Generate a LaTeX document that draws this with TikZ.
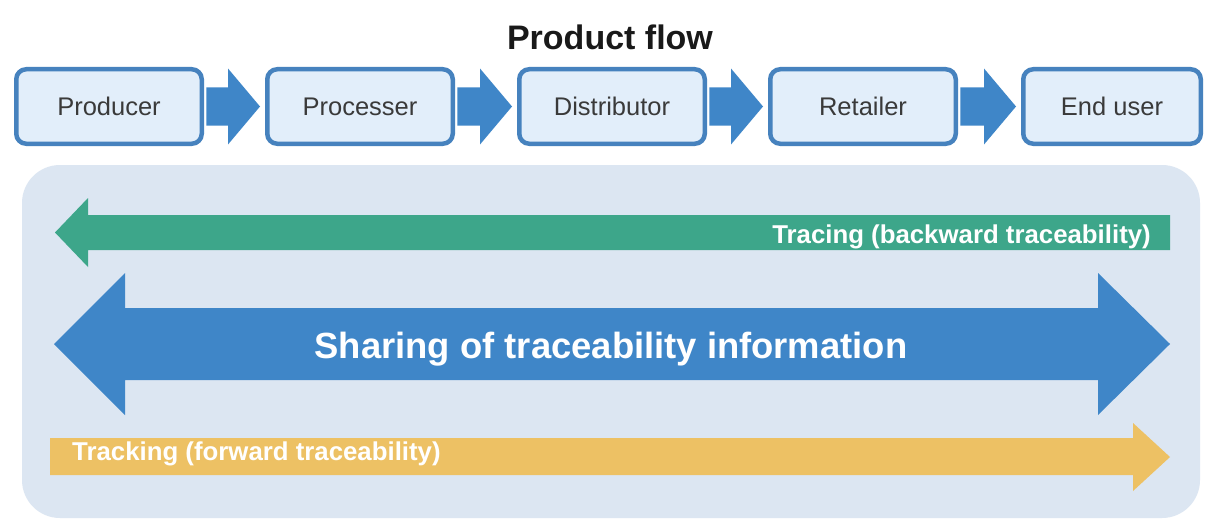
\documentclass[tikz,border=0pt]{standalone}
\usepackage{fontspec}
\setmainfont{Liberation Sans}
\usetikzlibrary{calc}
\definecolor{flowblue}{HTML}{3F86C8}
\definecolor{boxborder}{HTML}{4682BE}
\definecolor{boxfill}{HTML}{E2EEFA}
\definecolor{panelcol}{HTML}{DCE6F2}
\definecolor{greencol}{HTML}{3DA68A}
\definecolor{orangecol}{HTML}{EDC164}
\definecolor{labelgray}{HTML}{3A3A3A}
\begin{document}
\begin{tikzpicture}[x=1pt,y=-1pt,
  flowbox/.style={draw=boxborder, line width=4.5pt, fill=boxfill, rounded corners=10pt,
    minimum width=185.5pt, minimum height=74.5pt, inner sep=0pt,
    font=\fontsize{25.5}{25.5}\selectfont, text=labelgray},
  whitelabel/.style={text=white, inner sep=0pt, font=\fontsize{25.8}{25.8}\selectfont\bfseries}]
\useasboundingbox (0,0) rectangle (1206,524);
\fill[white] (0,0) rectangle (1206,524);
% title
\node[anchor=base, inner sep=0pt, font=\fontsize{34}{34}\selectfont\bfseries, text=black!90] (title) at (610,50) {Product flow};
% boxes
\coordinate (c1) at (109,106.5);
\coordinate (c2) at (360,106.5);
\coordinate (c3) at (612,106.5);
\coordinate (c4) at (863,106.5);
\coordinate (c5) at (1112,106.5);
\node[flowbox] (b1) at (c1) {Producer};
\node[flowbox] (b2) at (c2) {Processer};
\node[flowbox] (b3) at (c3) {Distributor};
\node[flowbox] (b4) at (c4) {Retailer};
\node[flowbox, minimum width=177.5pt] (b5) at (c5) {End user};
% connectors between boxes
\foreach \a/\b in {b1/b2,b2/b3,b3/b4,b4/b5}{
  \fill[flowblue] ($(\a.east)+(2.25,-19)$) -- ($(\b.west)+(-37,-19)$) -- ($(\b.west)+(-37,-38)$)
    -- ($(\b.west)+(-5,0)$) -- ($(\b.west)+(-37,38)$) -- ($(\b.west)+(-37,19)$)
    -- ($(\a.east)+(2.25,19)$) -- cycle;
}
% panel
\fill[panelcol, rounded corners=38pt] (22,165) rectangle (1200,518);
% tracing (green, leftward)
\fill[greencol] (1170,215) -- (88,215) -- (88,198) -- (55,232.5) -- (88,267) -- (88,250) -- (1170,250) -- cycle;
\node[whitelabel, anchor=base east] (tracing) at (1151,243) {Tracing (backward traceability)};
% sharing (blue, double)
\fill[flowblue] (125,308) -- (1098,308) -- (1098,273) -- (1170,344) -- (1098,415) -- (1098,380)
  -- (125,380) -- (125,415) -- (54,344) -- (125,273) -- cycle;
\node[whitelabel, anchor=base, font=\fontsize{36.4}{36.4}\selectfont\bfseries] (sharing) at (611,358) {Sharing of traceability information};
% tracking (orange, rightward)
\fill[orangecol] (50,438) -- (1133,438) -- (1133,423) -- (1170,457) -- (1133,491) -- (1133,475) -- (50,475) -- cycle;
\node[whitelabel, anchor=base west] (tracking) at (72,460) {Tracking (forward traceability)};
\end{tikzpicture}
\end{document}
